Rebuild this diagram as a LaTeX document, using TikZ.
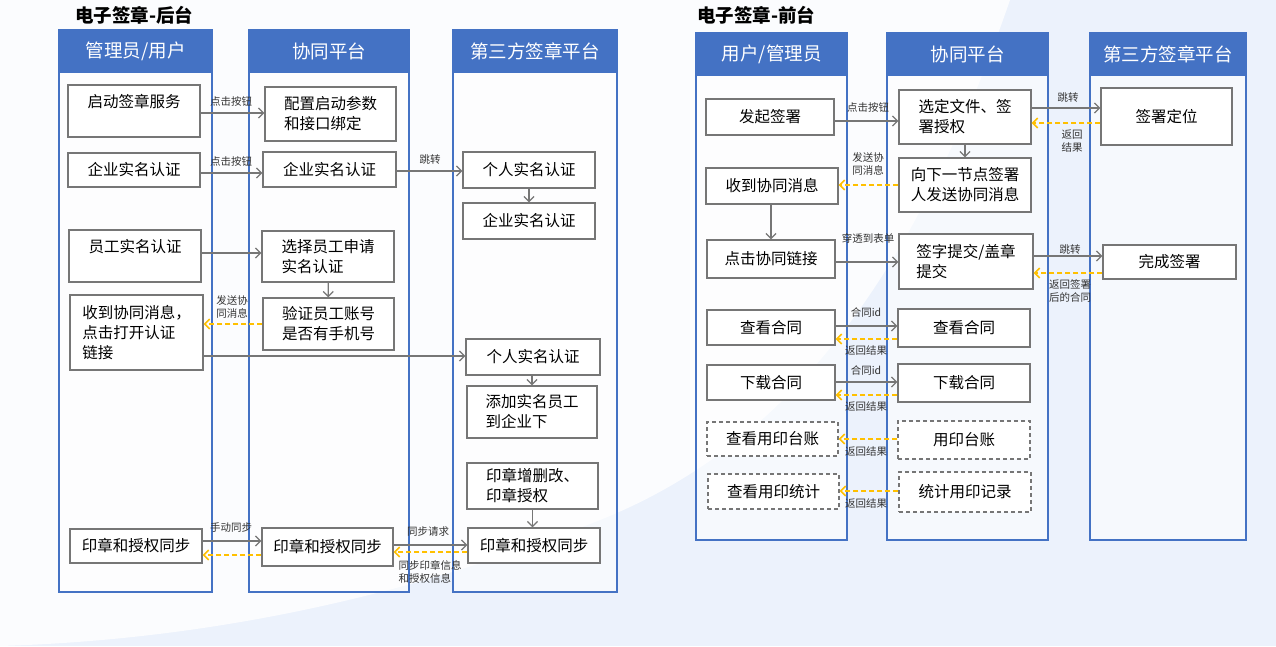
\documentclass[tikz,border=0pt]{standalone}
\usepackage{fontspec}
\setmainfont{Noto Sans CJK SC}
\usetikzlibrary{arrows.meta}
\definecolor{laneblue}{RGB}{68,114,196}
\definecolor{boxgray}{RGB}{118,118,118}
\definecolor{retyellow}{RGB}{255,192,0}
\definecolor{bgblue}{RGB}{236,242,252}
\begin{document}
\begin{tikzpicture}[x=1pt,y=-1pt,
  box/.style={draw=boxgray, line width=1.3pt, fill=white, align=left, inner sep=0pt,
    font=\fontsize{15.5}{20}\selectfont},
  dbox/.style={box, dash pattern=on 4pt off 3pt},
  head/.style={fill=laneblue, text=white, inner sep=0pt, anchor=north west,
    font=\fontsize{18.5}{20}\selectfont},
  lane/.style={draw=laneblue, line width=1.3pt, fill=white, fill opacity=0.55},
  go/.style={draw=boxgray, line width=1.3pt, -{Straight Barb[length=5pt,width=10pt]}},
  back/.style={draw=retyellow, line width=1.5pt, dash pattern=on 5pt off 3pt,
    -{Straight Barb[length=5pt,width=10pt]}},
  lbl/.style={inner sep=0pt, align=left, text=black!80, font=\fontsize{10.5}{12.5}\selectfont},
  ttl/.style={inner sep=0pt, anchor=west, font=\fontsize{18.5}{20}\selectfont\bfseries}]
\useasboundingbox (0,0) rectangle (1276,646);
\fill[bgblue] (0,0) rectangle (1276,646);
\fill[white, fill opacity=0.8] (0,0) -- (1010,0) .. controls (920,260) and (800,440) .. (600,520)
  .. controls (400,600) and (200,640) .. (0,646) -- cycle;
%% backend
\node[ttl] (t1) at (75,15) {电子签章-后台};
\draw[lane] (59,30) rectangle (212,592);
\draw[lane] (249,30) rectangle (409,592);
\draw[lane] (453,30) rectangle (617,592);
\node[head, minimum width=153pt, minimum height=43pt] (hA) at (59,30) {管理员/用户};
\node[head, minimum width=160pt, minimum height=43pt] (hB) at (249,30) {协同平台};
\node[head, minimum width=164pt, minimum height=43pt] (hC) at (453,30) {第三方签章平台};
%%
\node[box, minimum width=132pt, minimum height=52pt] (a1) at (134,111) {启动签章服务\\ };
\node[box, minimum width=131pt, minimum height=54pt] (b1) at (330.5,114) {配置启动参数\\和接口绑定};
\node[box, minimum width=132pt, minimum height=34pt] (a2) at (134,170) {企业实名认证};
\node[box, minimum width=133pt, minimum height=35pt] (b2) at (329.5,169.5) {企业实名认证};
\node[box, minimum width=132pt, minimum height=36pt] (c1) at (529,170) {个人实名认证};
\node[box, minimum width=132pt, minimum height=36pt] (c2) at (529,221) {企业实名认证};
\node[box, minimum width=132pt, minimum height=52pt] (a3) at (135,256) {员工实名认证\\ };
\node[box, minimum width=132pt, minimum height=51pt] (b3) at (328,256.5) {选择员工申请\\实名认证};
\node[box, minimum width=131pt, minimum height=52pt] (b4) at (328.5,324) {验证员工账号\\是否有手机号};
\node[box, minimum width=133pt, minimum height=75pt] (a4) at (136.5,332.5) {收到协同消息，\\点击打开认证\\链接};
\node[box, minimum width=134pt, minimum height=36pt] (c3) at (533,357) {个人实名认证};
\node[box, minimum width=130pt, minimum height=52pt] (c4) at (532,412) {添加实名员工\\到企业下};
\node[box, minimum width=131pt, minimum height=46pt] (c5) at (532.5,486) {印章增删改、\\印章授权};
\node[box, minimum width=132pt, minimum height=35pt] (c6) at (534,545.5) {印章和授权同步};
\node[box, minimum width=132pt, minimum height=34pt] (a5) at (136,546) {印章和授权同步};
\node[box, minimum width=131pt, minimum height=38pt] (b5) at (327.5,547) {印章和授权同步};
%%
\draw[go] (a1.east |- 0,113) -- (b1.west |- 0,113);
\node[lbl] (l1) at (231,101) {点击按钮};
\draw[go] (a2.east |- 0,173) -- (b2.west |- 0,173);
\node[lbl] (l2) at (231,161) {点击按钮};
\draw[go] (b2.east |- 0,171) -- (c1.west |- 0,171);
\node[lbl] (l3) at (430,160) {跳转};
\draw[go] (c1) -- (c2);
\draw[go] (a3.east |- 0,253) -- (b3.west |- 0,253);
\draw[go] (b3) -- (b4);
\draw[back] (b4.west |- 0,324) -- (a4.east |- 0,324);
\node[lbl] (l4) at (232,307) {发送协\\同消息};
\draw[go] (a4.east |- 0,356) -- (c3.west |- 0,356);
\draw[go] (c4.north |- c3.south) -- (c4.north);
\draw[go] (c5) -- (c5.south |- c6.north);
\draw[go] (a5.east |- 0,541) -- (b5.west |- 0,541);
\node[lbl] (l5) at (231,528) {手动同步};
\draw[back] (b5.west |- 0,555) -- (a5.east |- 0,555);
\draw[go] (b5.east |- 0,545) -- (c6.west |- 0,545);
\node[lbl] (l6) at (428,532) {同步请求};
\draw[back] (c6.west |- 0,552) -- (b5.east |- 0,552);
\node[lbl] (l7) at (430,572) {同步印章信息\\和授权信息};
%% frontend
\node[ttl] (t2) at (697,15) {电子签章-前台};
\draw[lane] (696,33) rectangle (847,540);
\draw[lane] (887,33) rectangle (1048,540);
\draw[lane] (1090,33) rectangle (1246,540);
\node[head, minimum width=151pt, minimum height=43pt] (hD) at (696,33) {用户/管理员};
\node[head, minimum width=161pt, minimum height=43pt] (hE) at (887,33) {协同平台};
\node[head, minimum width=156pt, minimum height=43pt] (hF) at (1090,33) {第三方签章平台};
%%
\node[box, minimum width=128pt, minimum height=36pt] (d1) at (770,117) {发起签署};
\node[box, minimum width=132pt, minimum height=54pt] (e1) at (965,117) {选定文件、签\\署授权};
\node[box, minimum width=131pt, minimum height=57pt] (f1) at (1166.5,116.5) {签署定位};
\node[box, minimum width=132pt, minimum height=54pt] (e2) at (965,185) {向下一节点签署\\人发送协同消息};
\node[box, minimum width=132pt, minimum height=36pt] (d2) at (772,186) {收到协同消息};
\node[box, minimum width=128pt, minimum height=38pt] (d3) at (771,259) {点击协同链接};
\node[box, minimum width=134pt, minimum height=55pt] (e3) at (966,261.5) {签字提交/盖章\\提交};
\node[box, minimum width=133pt, minimum height=34pt] (f2) at (1169.5,262) {完成签署};
\node[box, minimum width=128pt, minimum height=35pt] (d4) at (771,327.5) {查看合同};
\node[box, minimum width=132pt, minimum height=38pt] (e4) at (964,328) {查看合同};
\node[box, minimum width=128pt, minimum height=35pt] (d5) at (771,382.5) {下载合同};
\node[box, minimum width=132pt, minimum height=38pt] (e5) at (964,383) {下载合同};
\node[dbox, minimum width=131pt, minimum height=34pt] (d6) at (772.5,439) {查看用印台账};
\node[dbox, minimum width=132pt, minimum height=38pt] (e6) at (964,440) {用印台账};
\node[dbox, minimum width=131pt, minimum height=35pt] (d7) at (773.5,491.5) {查看用印统计};
\node[dbox, minimum width=132pt, minimum height=40pt] (e7) at (965,492) {统计用印记录};
%%
\draw[go] (d1.east |- 0,121) -- (e1.west |- 0,121);
\node[lbl] (m1) at (868,107) {点击按钮};
\draw[go] (e1.east |- 0,108) -- (f1.west |- 0,108);
\node[lbl] (m2) at (1068,98) {跳转};
\draw[back] (f1.west |- 0,123) -- (e1.east |- 0,123);
\node[lbl] (m3) at (1072,141) {返回\\结果};
\draw[go] (e1) -- (e2);
\draw[back] (e2.west |- 0,185) -- (d2.east |- 0,185);
\node[lbl] (m4) at (868,164) {发送协\\同消息};
\draw[go] (d3.north |- d2.south) -- (d3.north);
\draw[go] (d3.east |- 0,262) -- (e3.west |- 0,262);
\node[lbl] (m5) at (868,238) {穿透到表单};
\draw[go] (e3.east |- 0,256) -- (f2.west |- 0,256);
\node[lbl] (m6) at (1070,250) {跳转};
\draw[back] (f2.west |- 0,273) -- (e3.east |- 0,273);
\node[lbl] (m7) at (1070,291) {返回签署\\后的合同};
\draw[go] (d4.east |- 0,326) -- (e4.west |- 0,326);
\node[lbl] (m8) at (866,312) {合同id};
\draw[back] (e4.west |- 0,339) -- (d4.east |- 0,339);
\node[lbl] (m9) at (866,350) {返回结果};
\draw[go] (d5.east |- 0,382) -- (e5.west |- 0,382);
\node[lbl] (m10) at (866,370) {合同id};
\draw[back] (e5.west |- 0,395) -- (d5.east |- 0,395);
\node[lbl] (m11) at (866,406) {返回结果};
\draw[back] (e6.west |- 0,439) -- (d6.east |- 0,439);
\node[lbl] (m12) at (866,451) {返回结果};
\draw[back] (e7.west |- 0,491) -- (d7.east |- 0,491);
\node[lbl] (m13) at (866,503) {返回结果};
\end{tikzpicture}
\end{document}
